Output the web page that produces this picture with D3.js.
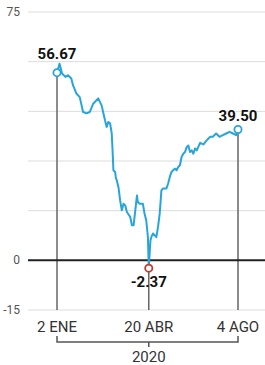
<!DOCTYPE html>
<html>
<head>
<meta charset="utf-8">
<script src="https://cdn.jsdelivr.net/npm/d3@7"></script>
<style>
  body { margin: 0; background: #fff; }
  text { font-family: Roboto, "Noto Sans", sans-serif; }
</style>
</head>
<body>
<div id="chart"></div>
<script>
// data
var dates = ["2020-01-02","2020-01-05","2020-01-08","2020-01-12","2020-01-15","2020-01-19","2020-01-21",
  "2020-01-25","2020-01-29","2020-02-02","2020-02-06","2020-02-10","2020-02-14","2020-02-20","2020-02-24",
  "2020-02-28","2020-03-01","2020-03-03","2020-03-05","2020-03-07","2020-03-08","2020-03-09","2020-03-11",
  "2020-03-12","2020-03-13","2020-03-15","2020-03-17","2020-03-19","2020-03-21","2020-03-23","2020-03-25",
  "2020-03-29","2020-03-31","2020-04-02","2020-04-04","2020-04-06","2020-04-07","2020-04-09","2020-04-13",
  "2020-04-15","2020-04-17","2020-04-19","2020-04-20","2020-04-22","2020-04-23","2020-04-25","2020-04-27",
  "2020-04-29","2020-05-01","2020-05-03","2020-05-05","2020-05-07","2020-05-11","2020-05-13","2020-05-15",
  "2020-05-17","2020-05-19","2020-05-21","2020-05-23","2020-05-25","2020-05-27","2020-05-29","2020-05-31",
  "2020-06-02","2020-06-04","2020-06-06","2020-06-08","2020-06-10","2020-06-12","2020-06-14","2020-06-16",
  "2020-06-20","2020-06-24","2020-06-28","2020-07-02","2020-07-05","2020-07-09","2020-07-13","2020-07-17",
  "2020-07-21","2020-07-25","2020-07-29","2020-08-02","2020-08-04"];
var prices = [56.67,59.4,56.4,55.4,55.9,54.9,52.9,
  50.4,49.3,44.8,44.4,44.8,47.3,48.9,46.8,
  42.3,40.3,41.8,41.4,38.4,33.2,27.2,26.7,
  24.8,24.2,22.1,18.1,15.1,17.1,16.6,14.6,
  13.1,10.6,10.6,15.1,19.6,17.6,17.1,17.1,
  14.1,12.1,7.0,-2.37,6.0,7.0,8.1,7.6,
  7.0,10.1,14.1,21.1,21.7,21.7,23.2,25.2,
  26.7,27.2,27.7,27.2,28.2,28.7,31.2,32.2,
  32.7,34.2,34.7,32.7,33.2,32.2,33.8,33.2,
  35.5,35.0,36.3,37.3,37.3,38.3,37.3,37.8,
  38.3,38.8,38.3,37.8,39.50];

var gridValues = [75, 60, 45, 30, 15, -15];
var yTickLabels = [75, 0, -15];
var markDates = ["2020-01-02", "2020-04-20", "2020-08-04"];
var markLabels = ["2 ENE", "20 ABR", "4 AGO"];
var yearLabel = "2020";

var svgWidth = 265;
var svgHeight = 365;

var parseDate = d3.timeParse("%Y-%m-%d");

var data = dates.map(function(d, i) {
  return { date: parseDate(d), value: prices[i] };
});

var svg = d3.select("#chart")
  .append("svg")
  .attr("width", svgWidth)
  .attr("height", svgHeight);

var x = d3.scaleTime()
  .domain([parseDate(dates[0]), parseDate(dates[dates.length - 1])])
  .range([57, 238]);

var y = d3.scaleLinear()
  .domain([-15, 75])
  .range([310, 12]);

// grid lines
svg.selectAll(".grid")
  .data(gridValues)
  .enter()
  .append("line")
  .attr("x1", 28)
  .attr("x2", svgWidth)
  .attr("y1", d => y(d))
  .attr("y2", d => y(d))
  .attr("stroke", "#dcdcdc")
  .attr("stroke-width", 1);

// y labels
svg.selectAll(".ylab")
  .data(yTickLabels)
  .enter()
  .append("text")
  .attr("x", 20)
  .attr("y", d => y(d) + 4)
  .attr("text-anchor", "end")
  .attr("font-size", "12px")
  .attr("fill", "#555")
  .text(d => d);

// vertical marker lines
var marks = markDates.map(function(d) {
  var dt = parseDate(d);
  var p = data.find(e => +e.date === +dt);
  return { date: dt, value: p.value };
});

svg.selectAll(".vline")
  .data(marks)
  .enter()
  .append("line")
  .attr("x1", d => x(d.date))
  .attr("x2", d => x(d.date))
  .attr("y1", d => y(d.value))
  .attr("y2", y(-15))
  .attr("stroke", "#666")
  .attr("stroke-width", 1.5);

// zero line
svg.append("line")
  .attr("x1", 28)
  .attr("x2", svgWidth)
  .attr("y1", y(0))
  .attr("y2", y(0))
  .attr("stroke", "#222")
  .attr("stroke-width", 2);

// price line
var line = d3.line()
  .x(d => x(d.date))
  .y(d => y(d.value));

svg.append("path")
  .datum(data)
  .attr("d", line)
  .attr("fill", "none")
  .attr("stroke", "#27a5da")
  .attr("stroke-width", 2)
  .attr("stroke-linejoin", "round");

// circles
svg.selectAll(".dot")
  .data(marks)
  .enter()
  .append("circle")
  .attr("cx", d => x(d.date))
  .attr("cy", d => y(d.value))
  .attr("r", 3.6)
  .attr("fill", "#fff")
  .attr("stroke", (d, i) => i === 1 ? "#c0392b" : "#27a5da")
  .attr("stroke-width", 1.8);

// value labels
var labelDy = [-14, 19, -9];
svg.selectAll(".vlab")
  .data(marks)
  .enter()
  .append("text")
  .attr("x", d => x(d.date))
  .attr("y", (d, i) => y(d.value) + labelDy[i])
  .attr("text-anchor", "middle")
  .attr("font-size", "15px")
  .attr("font-weight", "bold")
  .attr("fill", "#111")
  .text(d => d.value.toFixed(2));

// x labels
svg.selectAll(".xlab")
  .data(marks)
  .enter()
  .append("text")
  .attr("x", d => x(d.date))
  .attr("y", 332)
  .attr("text-anchor", "middle")
  .attr("font-size", "15px")
  .attr("fill", "#333")
  .text((d, i) => markLabels[i]);

// year bracket
var x0 = x(marks[0].date), x1 = x(marks[2].date), xm = x(marks[1].date);
svg.append("path")
  .attr("d", `M${x0},336 V342 H${x1} V336 M${xm},342 V347`)
  .attr("fill", "none")
  .attr("stroke", "#555")
  .attr("stroke-width", 1.5);

svg.append("text")
  .attr("x", xm)
  .attr("y", 362)
  .attr("text-anchor", "middle")
  .attr("font-size", "15px")
  .attr("fill", "#333")
  .text(yearLabel);
</script>
</body>
</html>
